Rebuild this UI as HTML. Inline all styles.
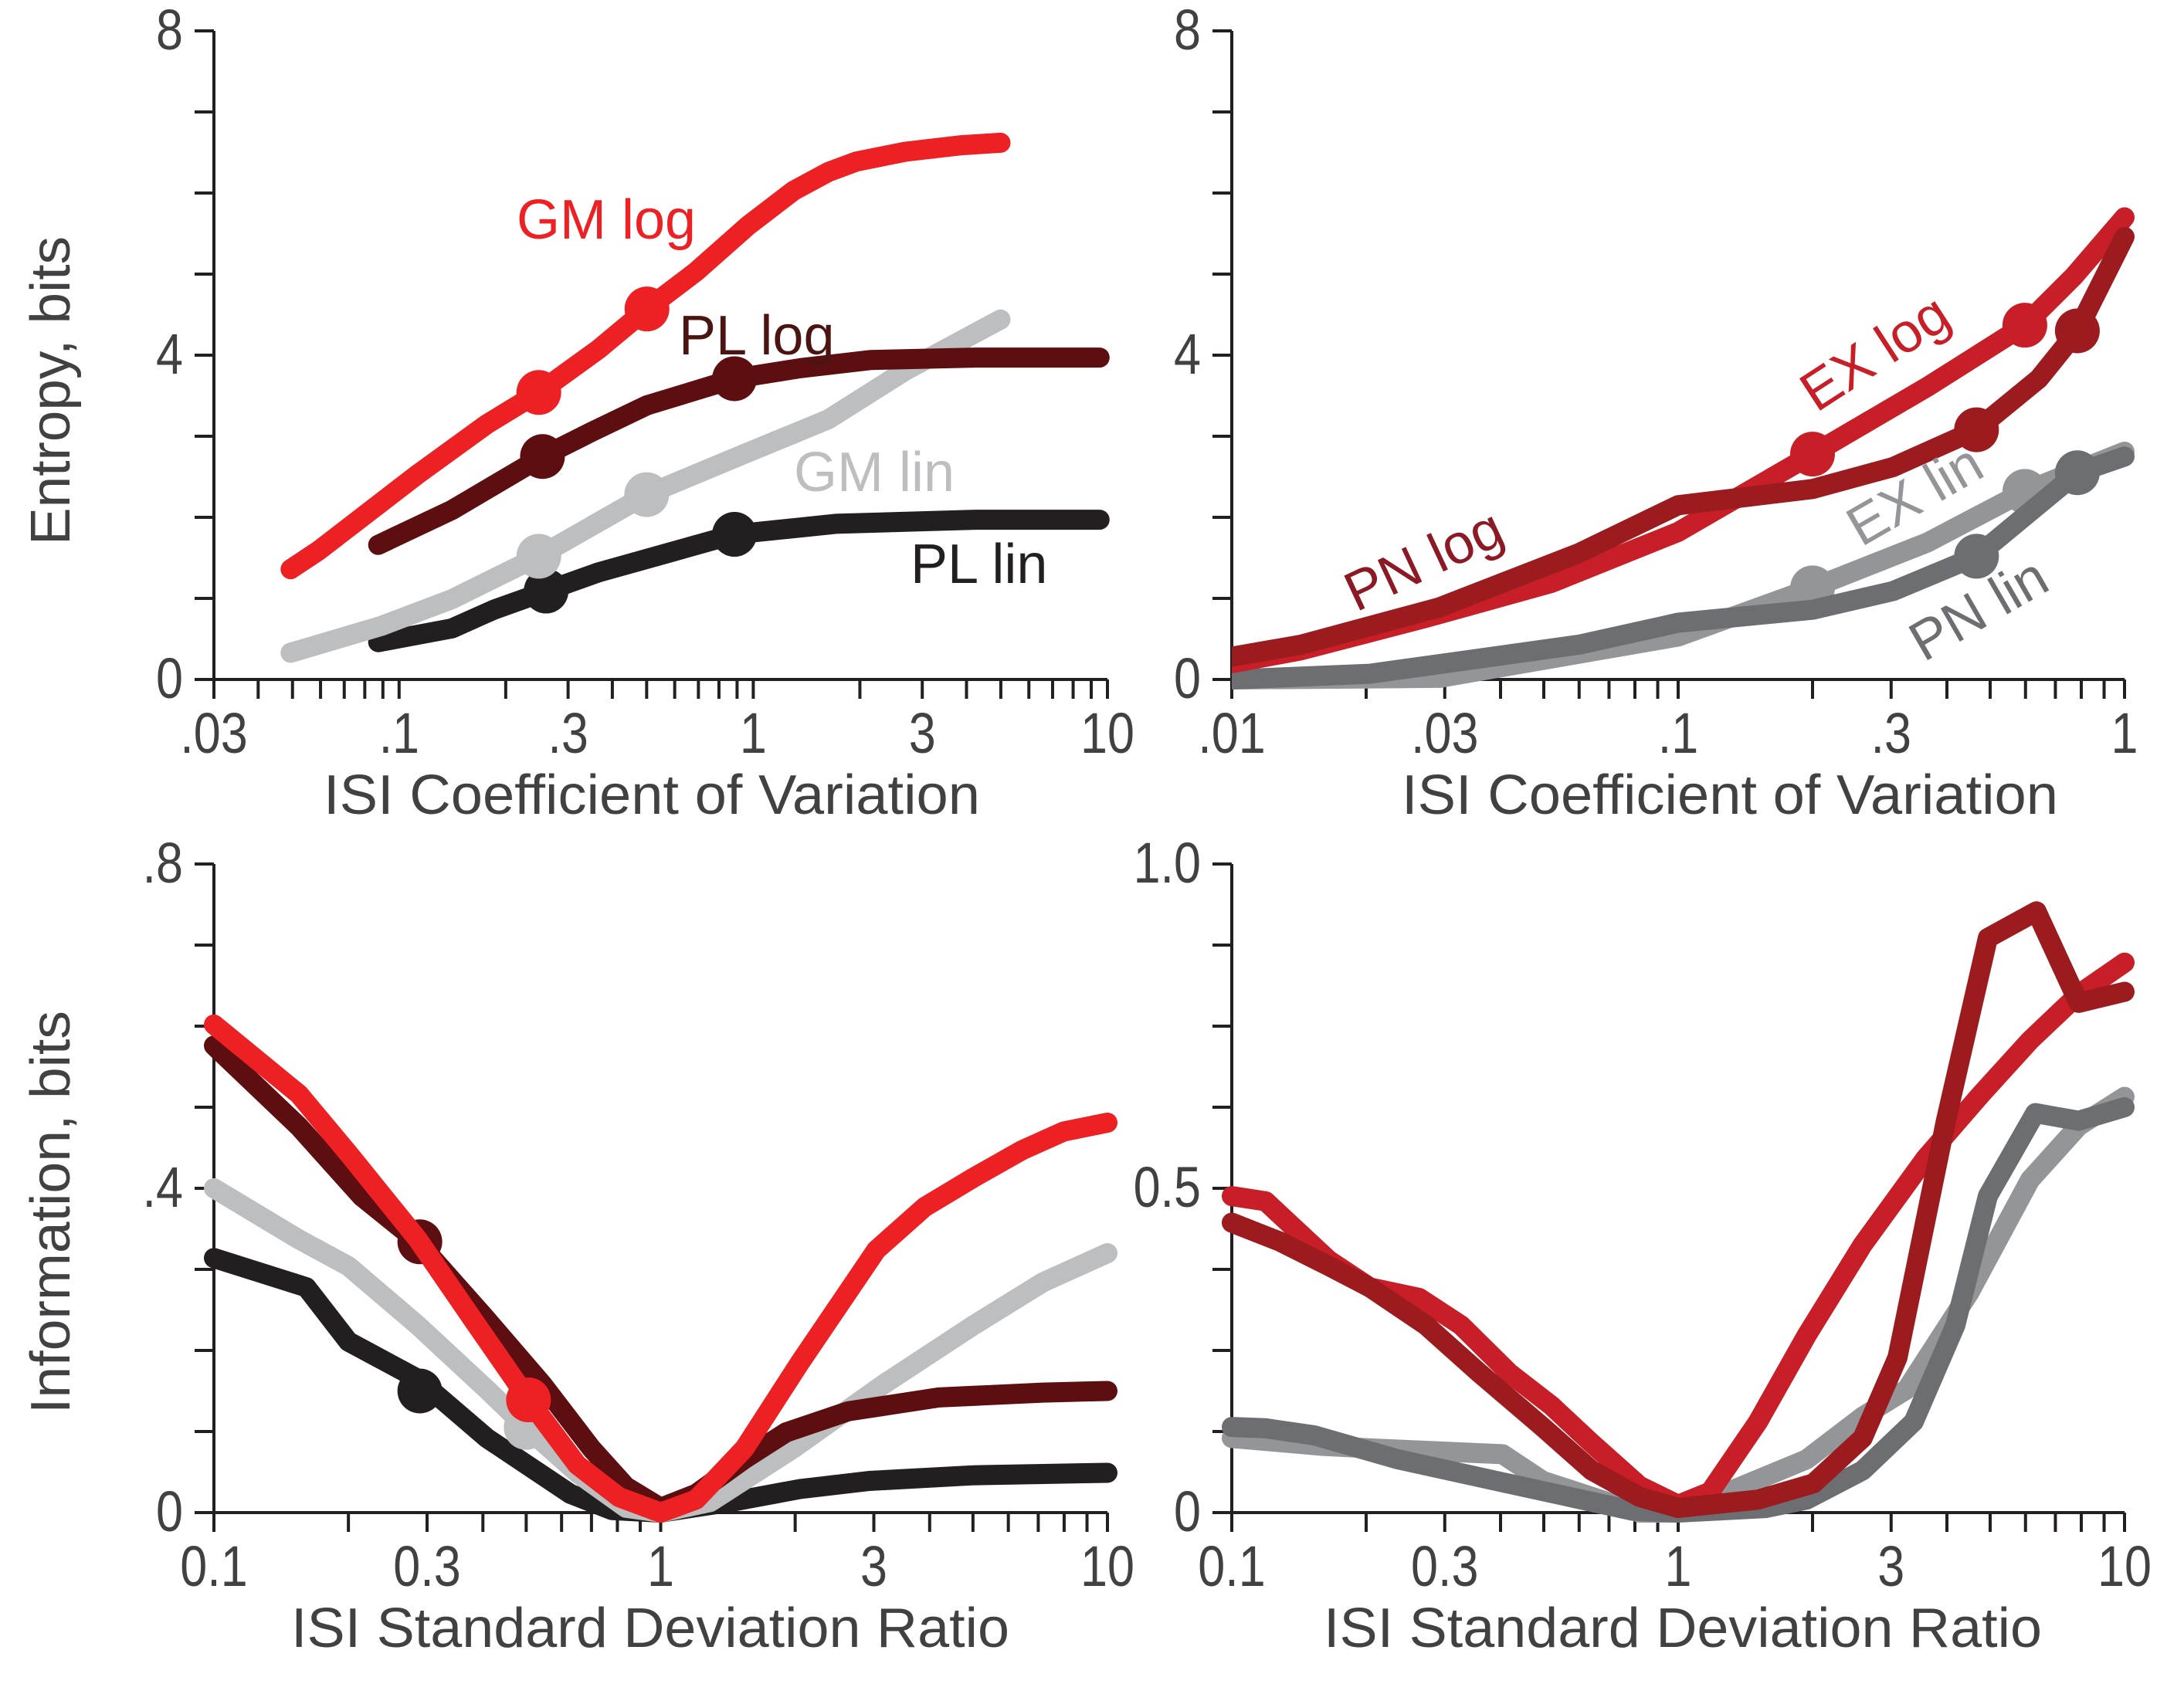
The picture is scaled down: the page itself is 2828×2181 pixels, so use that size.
<!DOCTYPE html>
<html><head><meta charset="utf-8"><style>
html,body{margin:0;padding:0;background:#fff;}
svg{display:block;}
text{font-family:"Liberation Sans",Arial,sans-serif;}
</style></head><body>
<svg id="chart" width="2828" height="2181" viewBox="0 0 2828 2181" xmlns="http://www.w3.org/2000/svg">
<defs><clipPath id="clipTR"><rect x="1595" y="0" width="1233" height="1000"/></clipPath></defs>
</svg>
<script>
// ---------- Top-left: entropy vs CV (GM / PL) ----------
const tlGmLogX=[0.0494,0.0593,0.112,0.177,0.248,0.365,0.501,0.689,0.968,1.30,1.63,1.96,2.69,3.87,4.99];
const tlGmLogY=[1.36,1.59,2.52,3.15,3.54,4.07,4.57,5.03,5.60,6.03,6.26,6.39,6.51,6.59,6.62];
const tlGmLogMX=[0.248,0.501], tlGmLogMY=[3.54,4.57];
const tlPlLogX=[0.0873,0.141,0.254,0.348,0.50,0.885,1.36,2.14,4.24,9.5];
const tlPlLogY=[1.66,2.09,2.75,3.05,3.38,3.71,3.84,3.94,3.97,3.97];
const tlPlLogMX=[0.254,0.885], tlPlLogMY=[2.75,3.71];
const tlGmLinX=[0.0494,0.089,0.141,0.248,0.50,0.906,1.63,2.69,4.99];
const tlGmLinY=[0.33,0.66,0.99,1.52,2.28,2.75,3.21,3.81,4.44];
const tlGmLinMX=[0.248,0.50], tlGmLinMY=[1.52,2.28];
const tlPlLinX=[0.0873,0.141,0.185,0.26,0.365,0.574,0.885,1.71,4.24,9.5];
const tlPlLinY=[0.46,0.63,0.86,1.09,1.32,1.56,1.79,1.92,1.97,1.97];
const tlPlLinMX=[0.26,0.885], tlPlLinMY=[1.09,1.79];
// ---------- Top-right: entropy vs CV (EX / PN) ----------
const trExLogX=[0.01,0.0143,0.0272,0.052,0.1,0.2,0.362,0.598,0.769,1.0];
const trExLogY=[0.20,0.36,0.76,1.19,1.82,2.78,3.61,4.37,4.97,5.70];
const trExLogMX=[0.2,0.598], trExLogMY=[2.78,4.37];
const trPnLogX=[0.01,0.0143,0.0292,0.060,0.1,0.2,0.303,0.466,0.643,0.784,1.0];
const trPnLogY=[0.28,0.43,0.89,1.56,2.15,2.35,2.62,3.08,3.71,4.30,5.46];
const trPnLogMX=[0.466,0.784], trPnLogMY=[3.08,4.30];
const trExLinX=[0.01,0.0292,0.1,0.2,0.362,0.598,1.0];
const trExLinY=[0.0,0.02,0.53,1.13,1.69,2.32,2.81];
const trExLinMX=[0.2,0.598], trExLinMY=[1.13,2.32];
const trPnLinX=[0.01,0.0204,0.060,0.1,0.2,0.303,0.466,0.784,1.0];
const trPnLinY=[0.0,0.07,0.43,0.70,0.86,1.09,1.52,2.55,2.75];
const trPnLinMX=[0.466,0.784], trPnLinMY=[1.52,2.55];
// ---------- Bottom-left: information vs SD ratio (GM / PL) ----------
const blGmLogX=[0.1,0.155,0.20,0.286,0.38,0.506,0.65,0.807,1,1.2,1.54,2.05,3.04,3.90,5.01,6.44,7.98,10];
const blGmLogY=[0.602,0.516,0.443,0.337,0.238,0.139,0.059,0.019,0,0.016,0.079,0.185,0.324,0.377,0.413,0.447,0.470,0.481];
const blGmLogMX=[0.506], blGmLogMY=[0.139];
const blPlLogX=[0.1,0.155,0.214,0.286,0.408,0.544,0.70,0.836,1,1.2,1.54,1.91,2.63,4.19,7.17,10];
const blPlLogY=[0.576,0.476,0.39,0.334,0.238,0.158,0.079,0.032,0.006,0.023,0.066,0.099,0.125,0.142,0.148,0.150];
const blPlLogMX=[0.289], blPlLogMY=[0.334];
const blGmLinX=[0.1,0.155,0.20,0.286,0.408,0.50,0.65,0.836,1,1.29,1.98,3.15,5.01,7.17,10];
const blGmLinY=[0.40,0.337,0.304,0.231,0.152,0.105,0.049,0.006,0,0.013,0.079,0.158,0.231,0.284,0.32];
const blGmLinMX=[0.50], blGmLinMY=[0.105];
const blPlLinX=[0.1,0.161,0.20,0.286,0.408,0.628,0.778,1,1.43,2.05,2.93,5.01,10];
const blPlLinY=[0.314,0.278,0.211,0.165,0.092,0.023,0.003,0,0.013,0.029,0.039,0.046,0.049];
const blPlLinMX=[0.289], blPlLinMY=[0.150];
// ---------- Bottom-right: information vs SD ratio (EX / PN) ----------
const brExLogX=[0.1,0.119,0.165,0.204,0.263,0.326,0.419,0.52,0.64,0.82,1,1.18,1.51,1.94,2.59,3.58,4.77,6.14,7.89,10];
const brExLogY=[0.488,0.480,0.389,0.347,0.331,0.289,0.215,0.165,0.107,0.041,0.012,0.032,0.14,0.273,0.413,0.546,0.645,0.728,0.799,0.848];
const brPnLogX=[0.1,0.128,0.165,0.204,0.272,0.359,0.497,0.64,0.82,1,1.51,2.01,2.59,3.10,3.98,4.94,6.35,7.89,10];
const brPnLogY=[0.447,0.418,0.380,0.347,0.289,0.215,0.132,0.065,0.024,0.007,0.020,0.045,0.115,0.239,0.604,0.886,0.927,0.786,0.803];
const brExLinX=[0.1,0.159,0.204,0.404,0.497,0.82,1,1.94,2.59,3.25,4.49,6.14,7.89,10];
const brExLinY=[0.115,0.103,0.099,0.090,0.049,0.0,0.0,0.082,0.148,0.190,0.339,0.513,0.596,0.641];
const brPnLinX=[0.1,0.119,0.153,0.236,0.39,0.79,1,1.57,1.94,2.59,3.37,4.18,4.94,6.31,7.89,10];
const brPnLinY=[0.132,0.130,0.119,0.082,0.049,0.003,0,0.007,0.020,0.065,0.14,0.289,0.488,0.616,0.604,0.625];
// ---------- tick labels ----------
const tlXTicks=[0.03,0.1,0.3,1,3,10], tlXLabels=[".03",".1",".3","1","3","10"];
const trXTicks=[0.01,0.03,0.1,0.3,1], trXLabels=[".01",".03",".1",".3","1"];
const bXTicks=[0.1,0.3,1,3,10], bXLabels=["0.1","0.3","1","3","10"];
const topYTicks=[0,4,8], topYLabels=["0","4","8"];
const blYTicks=[0,0.4,0.8], blYLabels=["0",".4",".8"];
const brYTicks=[0,0.5,1.0], brYLabels=["0","0.5","1.0"];

const NS="http://www.w3.org/2000/svg";
const svg=document.getElementById('chart');
const AX="#231F20", TXT="#414042";
function mk(tag,attrs,parent){const e=document.createElementNS(NS,tag);for(const k in attrs)e.setAttribute(k,attrs[k]);(parent||svg).appendChild(e);return e;}

function makePanel(p){
  const x=v=>p.x0+(Math.log10(v)-Math.log10(p.xmin))/(Math.log10(p.xmax)-Math.log10(p.xmin))*(p.x1-p.x0);
  const y=v=>p.y0-(v-p.ymin)/(p.ymax-p.ymin)*(p.y0-p.y1);
  return {x,y,p};
}
function drawAxes(P,name,minorY,yTicks,yLabels,xTicks,xLabels,xTitle,yTitle){
  const p=P.p, g=mk('g',{});  
  const ya=mk('line',{x1:p.x0,y1:p.y1,x2:p.x0,y2:p.y0,stroke:AX,'stroke-width':4},g);
   
  const xa=mk('line',{x1:p.x0-25,y1:p.y0,x2:p.x1,y2:p.y0,stroke:AX,'stroke-width':4},g);
   
  for(let i=0;i<=minorY.n;i++){const v=p.ymin+i*minorY.step;const t=mk('line',{x1:p.x0-25,y1:P.y(v),x2:p.x0,y2:P.y(v),stroke:AX,'stroke-width':4},g);
     }
  const lo=Math.floor(Math.log10(p.xmin)), hi=Math.ceil(Math.log10(p.xmax));
  for(let d=lo;d<=hi;d++)for(let m=1;m<10;m++){const v=m*Math.pow(10,d);if(v<p.xmin*0.999||v>p.xmax*1.001)continue;
    const t=mk('line',{x1:P.x(v),y1:p.y0,x2:P.x(v),y2:p.y0+25,stroke:AX,'stroke-width':4},g);
     }
  yTicks.forEach((v,i)=>{const t=mk('text',{x:p.x0-40,y:P.y(v)+24,'font-size':74,fill:TXT,'text-anchor':'end',transform:`translate(${p.x0-40},0) scale(0.85,1) translate(${-(p.x0-40)},0)`},g);
    t.textContent=yLabels[i];  });
  xTicks.forEach((v,i)=>{const cx=P.x(v);const t=mk('text',{x:cx,y:p.y0+95,'font-size':74,fill:TXT,'text-anchor':'middle',transform:`translate(${cx},0) scale(0.85,1) translate(${-cx},0)`},g);
    t.textContent=xLabels[i];  });
  const xt=mk('text',{x:xTitle.x,y:p.y0+174,'font-size':72,fill:TXT,textLength:xTitle.w,lengthAdjust:'spacingAndGlyphs'},g);
  xt.textContent=xTitle.t;  
  if(yTitle){const yt=mk('text',{x:0,y:0,'font-size':72,fill:TXT,'text-anchor':'middle',textLength:yTitle.w,lengthAdjust:'spacingAndGlyphs',transform:`translate(90,${yTitle.cy}) rotate(-90)`},g);
    yt.textContent=yTitle.t;  }
}
function drawSeries(P,name,xs,ys,color,mx,my,clip){
  const g=mk('g',clip?{'clip-path':clip}:{});  
  const d=xs.map((v,i)=>(i?'L':'M')+P.x(v).toFixed(1)+','+P.y(ys[i]).toFixed(1)).join(' ');
  const l=mk('path',{d,fill:'none',stroke:color,'stroke-width':26,'stroke-linecap':'round','stroke-linejoin':'round'},g);
   
  if(mx)mx.forEach((v,i)=>{const c=mk('circle',{cx:P.x(v),cy:P.y(my[i]),r:29,fill:color},g);
     });
}
function label(txt,x,y,color,rot){const t=mk('text',{x,y,'font-size':72,fill:color,transform:rot?`rotate(${rot},${x},${y})`:''});
  t.textContent=txt;  }

const TL=makePanel({x0:277,x1:1434,xmin:0.03,xmax:10,y0:880,y1:40,ymin:0,ymax:8});
const TR=makePanel({x0:1595,x1:2751,xmin:0.01,xmax:1,y0:880,y1:40,ymin:0,ymax:8});
const BL=makePanel({x0:277,x1:1434,xmin:0.1,xmax:10,y0:1959,y1:1119,ymin:0,ymax:0.8});
const BR=makePanel({x0:1595,x1:2751,xmin:0.1,xmax:10,y0:1959,y1:1119,ymin:0,ymax:1.0});

drawAxes(TL,'top-left',{n:8,step:1},topYTicks,topYLabels,tlXTicks,tlXLabels,{x:419,w:850,t:'ISI Coefficient of Variation'},{cy:506,w:400,t:'Entropy, bits'});
drawAxes(TR,'top-right',{n:8,step:1},topYTicks,topYLabels,trXTicks,trXLabels,{x:1815,w:850,t:'ISI Coefficient of Variation'},null);
drawAxes(BL,'bottom-left',{n:8,step:0.1},blYTicks,blYLabels,bXTicks,bXLabels,{x:377,w:930,t:'ISI Standard Deviation Ratio'},{cy:1570,w:522,t:'Information, bits'});
drawAxes(BR,'bottom-right',{n:8,step:0.125},brYTicks,brYLabels,bXTicks,bXLabels,{x:1714,w:930,t:'ISI Standard Deviation Ratio'},null);

drawSeries(TL,'tl-pl-lin',tlPlLinX,tlPlLinY,'#231F20',tlPlLinMX,tlPlLinMY);
drawSeries(TL,'tl-gm-lin',tlGmLinX,tlGmLinY,'#BCBEC0',tlGmLinMX,tlGmLinMY);
drawSeries(TL,'tl-pl-log',tlPlLogX,tlPlLogY,'#5C0E10',tlPlLogMX,tlPlLogMY);
drawSeries(TL,'tl-gm-log',tlGmLogX,tlGmLogY,'#ED2024',tlGmLogMX,tlGmLogMY);

drawSeries(TR,'tr-ex-lin',trExLinX,trExLinY,'#939598',trExLinMX,trExLinMY,'url(#clipTR)');
drawSeries(TR,'tr-pn-lin',trPnLinX,trPnLinY,'#6D6E71',trPnLinMX,trPnLinMY,'url(#clipTR)');
drawSeries(TR,'tr-ex-log',trExLogX,trExLogY,'#C81E28',trExLogMX,trExLogMY,'url(#clipTR)');
drawSeries(TR,'tr-pn-log',trPnLogX,trPnLogY,'#9B1B1F',trPnLogMX,trPnLogMY,'url(#clipTR)');

drawSeries(BL,'bl-pl-lin',blPlLinX,blPlLinY,'#231F20',blPlLinMX,blPlLinMY);
drawSeries(BL,'bl-gm-lin',blGmLinX,blGmLinY,'#BCBEC0',blGmLinMX,blGmLinMY);
drawSeries(BL,'bl-pl-log',blPlLogX,blPlLogY,'#5C0E10',blPlLogMX,blPlLogMY);
drawSeries(BL,'bl-gm-log',blGmLogX,blGmLogY,'#ED2024',blGmLogMX,blGmLogMY);

drawSeries(BR,'br-ex-lin',brExLinX,brExLinY,'#939598');
drawSeries(BR,'br-pn-lin',brPnLinX,brPnLinY,'#6D6E71');
drawSeries(BR,'br-ex-log',brExLogX,brExLogY,'#C81E28');
drawSeries(BR,'br-pn-log',brPnLogX,brPnLogY,'#9B1B1F');

label('GM log',669,309,'#ED2024');
label('PL log',879,459,'#4A1410');
label('GM lin',1028,636,'#BCBEC0');
label('PL lin',1179,755,'#231F20');
label('EX log',2352,535,'#C81E28',-33);
label('PN log',1756,793,'#8B1A24',-25);
label('EX lin',2410,709,'#939598',-30);
label('PN lin',2491,858,'#6D6E71',-30);
</script>
</body></html>
